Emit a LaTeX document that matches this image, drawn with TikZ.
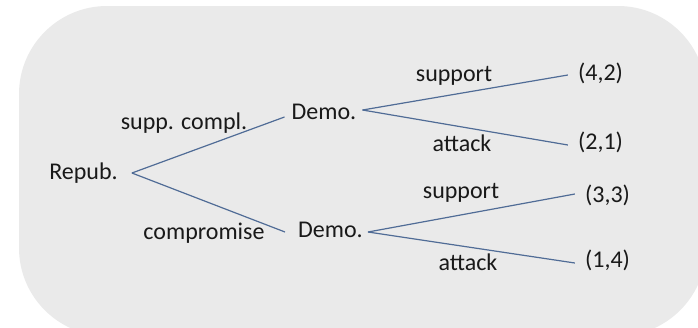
\documentclass[tikz,border=0pt]{standalone}
\usepackage{fontspec}
\setmainfont{Carlito}
\definecolor{bg}{RGB}{234,234,234}
\definecolor{edgecol}{RGB}{80,108,150}
\begin{document}
\begin{tikzpicture}[x=1pt,y=-1pt,
  lbl/.style={font=\fontsize{24}{28}\selectfont, inner sep=0pt, text=black!90},
  branch/.style={draw=edgecol, line width=1.2pt}]
\useasboundingbox (0,0) rectangle (698,327);
\begin{scope}
\clip (0,0) rectangle (698,327);
\fill[bg, rounded corners=88pt] (19,6) rectangle (706,336);
\end{scope}
% players and payoffs
\node[lbl] (r) at (83.5,173) {Repub.};
\node[lbl] (d1) at (324,112) {Demo.};
\node[lbl] (d2) at (330.5,230) {Demo.};
\node[lbl] (p1) at (600.5,73) {(4,2)};
\node[lbl] (p2) at (600.5,142) {(2,1)};
\node[lbl] (p3) at (607.5,195) {(3,3)};
\node[lbl] (p4) at (607.5,260) {(1,4)};
% action labels
\node[lbl] (l1) at (184,123) {supp. compl.};
\node[lbl] (l2) at (204,233) {compromise};
\node[lbl] (l3) at (454,76) {support};
\node[lbl] (l4) at (462,143) {attack};
\node[lbl] (l5) at (461,193) {support};
\node[lbl] (l6) at (468,262) {attack};
% branches
\draw[branch] ([xshift=14pt]r.east) -- ([xshift=-7pt,yshift=-5pt]d1.west);
\draw[branch] ([xshift=14pt]r.east) -- ([xshift=-13pt,yshift=-2pt]d2.west);
\draw[branch] ([xshift=6pt,yshift=2pt]d1.east) -- ([xshift=-10pt,yshift=-2pt]p1.west);
\draw[branch] ([xshift=6pt,yshift=2pt]d1.east) -- ([xshift=-10pt,yshift=-3pt]p2.west);
\draw[branch] ([xshift=5pt,yshift=-2pt]d2.east) -- ([xshift=-10pt,yshift=1pt]p3.west);
\draw[branch] ([xshift=5pt,yshift=-2pt]d2.east) -- ([xshift=-10pt,yshift=-3pt]p4.west);
\end{tikzpicture}
\end{document}
